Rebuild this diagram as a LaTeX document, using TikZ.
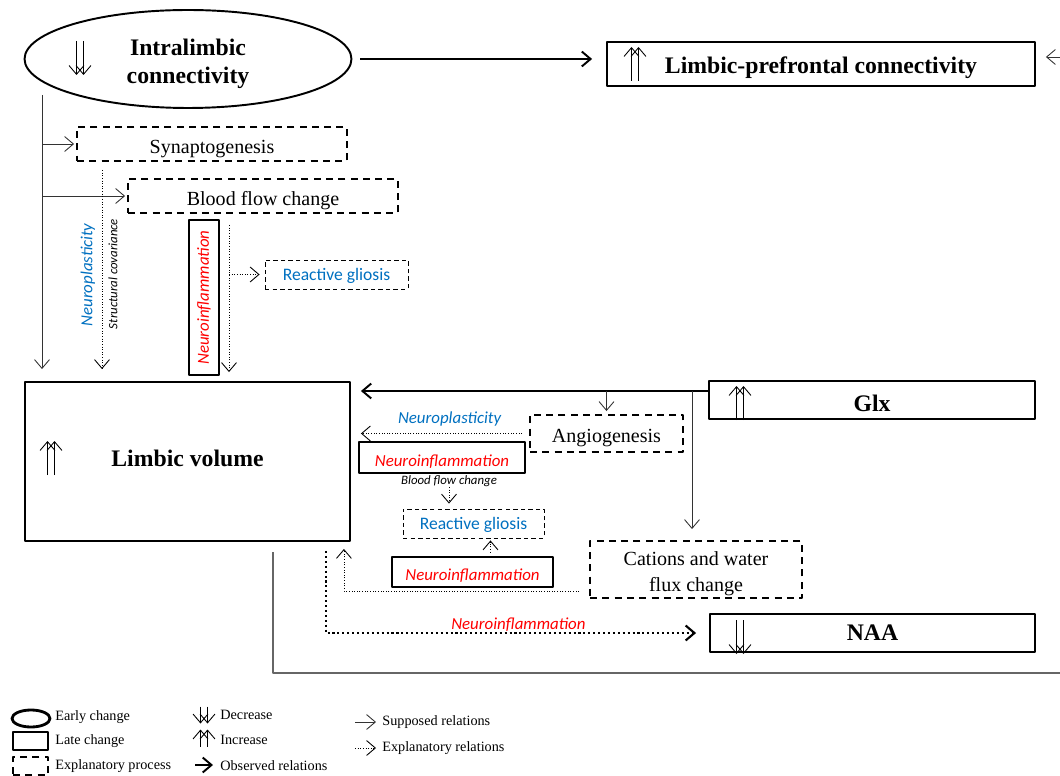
\documentclass[tikz,border=0pt]{standalone}
\usepackage{fontspec}
\setmainfont{Liberation Serif}
\newfontfamily\calfont{Carlito}
\usetikzlibrary{arrows.meta,shapes.geometric}
\definecolor{nblue}{RGB}{0,112,192}
\begin{document}
\begin{tikzpicture}[x=0.02cm,y=-0.02cm,line join=round,>={Straight Barb[length=5pt,width=8.5pt]}]
\tikzset{every node/.style={inner sep=0pt,align=center},
  late/.style={draw,line width=1.1pt},
  expbox/.style={draw,line width=1.1pt,dash pattern=on 4pt off 3pt},
  thinbox/.style={draw,line width=.6pt},
  gliobox/.style={draw,line width=.5pt,dash pattern=on 2.5pt off 1.8pt,text=nblue,text height=9.2pt,text depth=2.5pt,font=\calfont\fontsize{10}{12}\selectfont},
  bigtxt/.style={font=\bfseries\fontsize{13.5}{16.4}\selectfont},
  midtxt/.style={font=\fontsize{11.4}{14.7}\selectfont},
  onetxt/.style={midtxt,text height=12.9pt,text depth=2.5pt},
  redtxt/.style={text=red,font=\calfont\itshape\fontsize{9.6}{11}\selectfont},
  bluetxt/.style={text=nblue,font=\calfont\itshape\fontsize{9.6}{11}\selectfont},
  smalltxt/.style={font=\calfont\itshape\fontsize{7.3}{9}\selectfont},
  legtxt/.style={anchor=west,font=\fontsize{8.1}{10}\selectfont},
  obs/.style={->,line width=1.1pt},
  sup/.style={->,line width=.5pt,black!80},
  expl/.style={->,densely dotted,line width=.5pt},
  explthick/.style={->,line width=1.2pt,dash pattern=on 1.2pt off 1.6pt},
  dn2/.pic={\draw[->,line width=.5pt] (-3.5,-17)--(-3.5,17); \draw[->,line width=.5pt] (3.5,-17)--(3.5,17);},
  up2/.pic={\draw[->,line width=.5pt] (-3.5,17)--(-3.5,-17); \draw[->,line width=.5pt] (3.5,17)--(3.5,-17);}}
\useasboundingbox (0,0) rectangle (1060,776);
\node[ellipse,draw,line width=1.1pt,minimum width=6.54cm,minimum height=1.96cm,bigtxt,text height=31.3pt] (ilc) at (188,59) {Intralimbic\\connectivity};
\pic at (80,58) {dn2};
\node[late,bigtxt,minimum width=8.56cm,minimum height=.88cm,text height=13.9pt,text depth=2.9pt] (lpc) at (821,64) {Limbic-prefrontal connectivity};
\pic at (635,64) {up2};
\node[expbox,onetxt,minimum width=5.4cm,minimum height=.68cm] (syn) at (212,144) {Synaptogenesis};
\node[expbox,onetxt,minimum width=5.4cm,minimum height=.68cm] (bfc) at (263,196) {Blood flow change};
\node[thinbox,redtxt,rotate=90,minimum width=3.1cm,minimum height=.6cm] (nf1) at (204,297.5) {Neuroinflammation};
\node[gliobox,minimum width=2.86cm,minimum height=.58cm] (rg1) at (336.5,274.5) {Reactive gliosis};
\node[bluetxt,rotate=90] (npl1) at (88,275) {Neuroplasticity};
\node[smalltxt,rotate=90] (scv) at (113,274) {Structural covariance};
\node[late,bigtxt,minimum width=6.5cm,minimum height=3.18cm,text height=9.3pt,text depth=4pt] (lv) at (187.5,461.5) {Limbic volume};
\pic at (51,458) {up2};
\node[late,bigtxt,minimum width=6.52cm,minimum height=.76cm,text height=12.7pt,text depth=0pt] (glx) at (872,400) {Glx};
\pic at (740,403) {up2};
\node[expbox,onetxt,minimum width=3.06cm,minimum height=.74cm] (ang) at (606.5,433.5) {Angiogenesis};
\node[thinbox,redtxt,text height=10.2pt,text depth=0pt,minimum width=3.32cm,minimum height=.62cm] (nf2) at (442,457.5) {Neuroinflammation};
\node[smalltxt] (bfl) at (449,481) {Blood flow change};
\node[gliobox,minimum width=2.82cm,minimum height=.58cm] (rg2) at (473.5,523.5) {Reactive gliosis};
\node[thinbox,redtxt,text height=10.2pt,text depth=0pt,minimum width=3.22cm,minimum height=.6cm] (nf3) at (472.5,572) {Neuroinflammation};
\node[expbox,midtxt,text height=27pt,minimum width=4.24cm,minimum height=1.14cm] (cat) at (696,569.5) {Cations and water\\flux change};
\node[late,bigtxt,minimum width=6.5cm,minimum height=.76cm] (naa) at (872.5,633) {NAA};
\pic at (740,637) {dn2};
\coordinate (lt) at (42,95);
\coordinate (np) at (102,170);
\coordinate (nf) at (229,225);
\coordinate (rt) at (1060,57);
\coordinate (gs) at (273,552);
\coordinate (ge) at (1060,673);
\coordinate (g0) at ([yshift=.18cm]glx.west);
\draw[obs] ([xshift=.16cm]ilc.east) -- ([xshift=-.28cm]lpc.west |- ilc.east);
\draw[sup] (rt) -- ([xshift=.2cm]lpc.east |- rt);
\draw[sup] (lt) -- ([yshift=.24cm]lt |- lv.north);
\draw[sup] (lt |- syn.west) -- ([xshift=-.04cm]syn.west);
\draw[sup] (lt |- bfc.west) -- ([xshift=-.04cm]bfc.west);
\draw[expl] (np) -- ([yshift=.24cm]np |- lv.north);
\draw[expl] (nf) -- ([yshift=.18cm]nf |- lv.north);
\draw[expl] (nf |- rg1.west) -- ([xshift=-.1cm]rg1.west);
\draw[obs] (g0) -- ([xshift=.2cm]g0 -| lv.east);
\draw[sup] (g0 -| ang.north) -- ([yshift=.06cm]ang.north);
\draw[sup] ([xshift=-.08cm]g0 -| cat.north) -- ([xshift=-.08cm,yshift=.22cm]cat.north);
\draw[expl] ([xshift=-.14cm]ang.west) -- ([xshift=.2cm]ang.west -| lv.east) node[pos=.45,above=4pt,bluetxt] (npl2) {Neuroplasticity};
\draw[expl] (bfl.south) -- ([yshift=.1cm]bfl.south |- rg2.north);
\draw[expl] ([xshift=.36cm,yshift=.08cm]nf3.north) -- ([xshift=.36cm,yshift=-.04cm]nf3.north |- rg2.south);
\draw[expl] ([xshift=-.2cm,yshift=.16cm]cat.south west) -| ([xshift=-.14cm,yshift=-.14cm]lv.south east);
\draw[explthick] ([xshift=-.5cm,yshift=-.18cm]lv.south east) |- ([xshift=-.26cm]naa.west) node[pos=.76,above=0pt,redtxt] (nf4) {Neuroinflammation};
\draw[black!60,line width=.6pt] (gs) |- (ge);
\node[ellipse,draw,line width=1.6pt,minimum width=.76cm,minimum height=.34cm] (lg1) at (31,718.5) {};
\node[late,line width=1.6pt,minimum width=.7cm,minimum height=.36cm] (lg2) at (30.5,741) {};
\node[expbox,line width=1.6pt,minimum width=.7cm,minimum height=.36cm] (lg3) at (30.5,766) {};
\pic[yscale=.5] at (204,715) {dn2};
\pic[yscale=.5] at (204,738) {up2};
\draw[obs] (195,765) -- (213,765);
\draw[sup] (355,722) -- (376,722);
\draw[expl] (355,748) -- (376,748);
\foreach \n/\x/\y/\t in {1/55/717/Early change,2/55/741/Late change,3/55/766/Explanatory process,4/220/715/Decrease,5/220/740/Increase,6/220/766/Observed relations,7/382/722/Supposed relations,8/382/748/Explanatory relations}
\node[legtxt] (lt\n) at (\x,\y) {\t};
\end{tikzpicture}
\end{document}
